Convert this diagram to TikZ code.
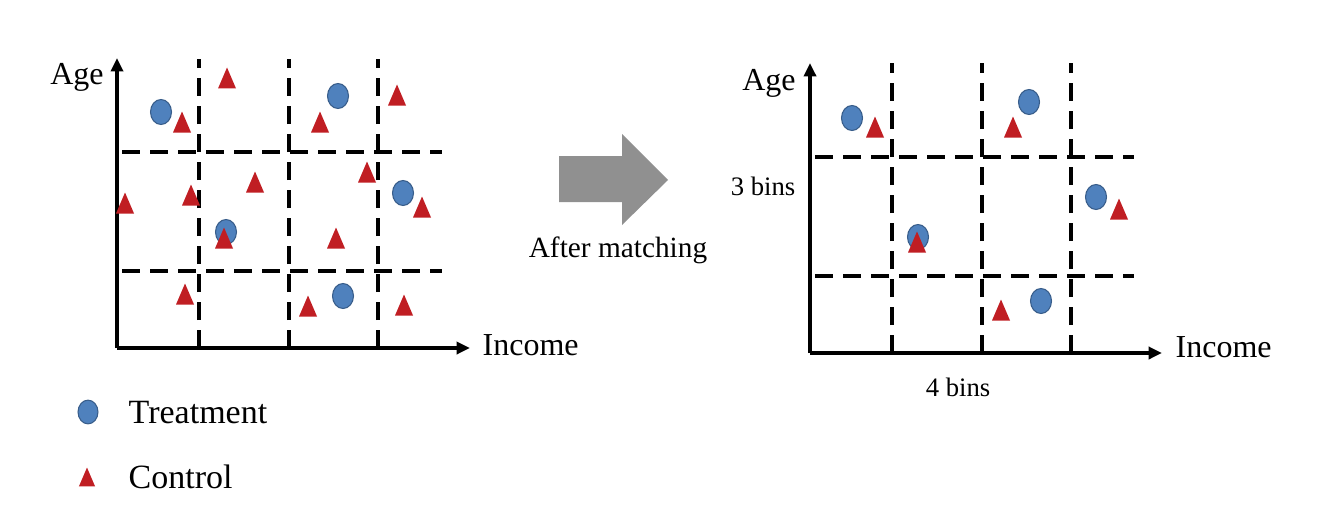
\documentclass[tikz,border=0pt]{standalone}
\usepackage{fontspec}
\setmainfont{Liberation Serif}
\usepackage{xcolor}
\usetikzlibrary{arrows.meta,calc,positioning}
\definecolor{treatblue}{RGB}{79,129,189}
\definecolor{treatedge}{RGB}{56,93,138}
\definecolor{ctrlred}{RGB}{192,30,35}
\definecolor{arrowgray}{RGB}{144,144,144}
\tikzset{
  axis/.style={line width=3pt,-{Triangle[length=10pt,width=9pt]}},
  binline/.style={line width=2.6pt,dash pattern=on 13.5pt off 7.5pt},
  axlabel/.style={font=\fontsize{24}{28}\selectfont},
  legendlabel/.style={font=\fontsize{25.5}{30}\selectfont},
  binlabel/.style={font=\fontsize{20}{24}\selectfont},
  treat/.pic={\filldraw[fill=treatblue,draw=treatedge,line width=0.8pt] (0,0) ellipse [x radius=10.5,y radius=12.5];},
  ctrl/.pic={\fill[ctrlred] (0,-10.5) -- (9,10.5) -- (-9,10.5) -- cycle;}
}

\begin{document}
\begin{tikzpicture}[x=0.75pt,y=-0.75pt]
\useasboundingbox (0,0) rectangle (1324,510);
% before matching
\coordinate (o1) at (117,348); \coordinate (y1) at (117,58); \coordinate (x1) at (470,348);
\foreach \x in {199,289,378} \draw[binline] (\x,348) -- (\x,59);
\foreach \y in {152,271} \draw[binline] (122,\y) -- (442,\y);
\draw[axis] (o1) -- (y1); \draw[axis] (o1) -- (x1);
\node[axlabel] (age1) at (77,77) {Age};
\node[axlabel,anchor=west] (inc1) at (478,345) {Income};
\foreach \p in {(161,112),(338,96),(403,193),(226,232),(343,296)} \pic at \p {treat};
\foreach \p in {(227,78),(182,122),(397,95),(320,122),(255,182),(367,172),(191,195),(125,203),(422,207),(224,238),(336,238),(185,294),(308,306),(404,305)} \pic at \p {ctrl};
% legend
\pic[scale=0.95] at (88,412) {treat}; \node[legendlabel,anchor=west] (lgt) at (124,413) {Treatment};
\pic[scale=0.9] at (87,477) {ctrl}; \node[legendlabel,anchor=west] (lgc) at (124,477) {Control};
% arrow
\fill[arrowgray] (559,156) -- (622,156) -- (622,134) -- (668,180) -- (622,225) -- (622,202) -- (559,202) -- cycle;
\node[font=\fontsize{22}{26}\selectfont] (match) at (618,250) {After matching};
% after matching
\coordinate (o2) at (810,353); \coordinate (y2) at (810,63); \coordinate (x2) at (1162,353);
\foreach \x in {892,982,1071} \draw[binline] (\x,353) -- (\x,63);
\foreach \y in {157,276} \draw[binline] (815,\y) -- (1134,\y);
\draw[axis] (o2) -- (y2); \draw[axis] (o2) -- (x2);
\node[axlabel] (age2) at (769,83) {Age};
\node[axlabel,anchor=west] (inc2) at (1171,347) {Income};
\node[binlabel] (rows) at (763,186) {3 bins};
\node[binlabel] (cols) at (958,387) {4 bins};
\foreach \p in {(852,118),(1029,102),(1096,197),(918,237),(1041,301)} \pic at \p {treat};
\foreach \p in {(875,127),(1013,127),(1119,209),(917,242),(1001,310)} \pic at \p {ctrl};
\end{tikzpicture}
\end{document}
